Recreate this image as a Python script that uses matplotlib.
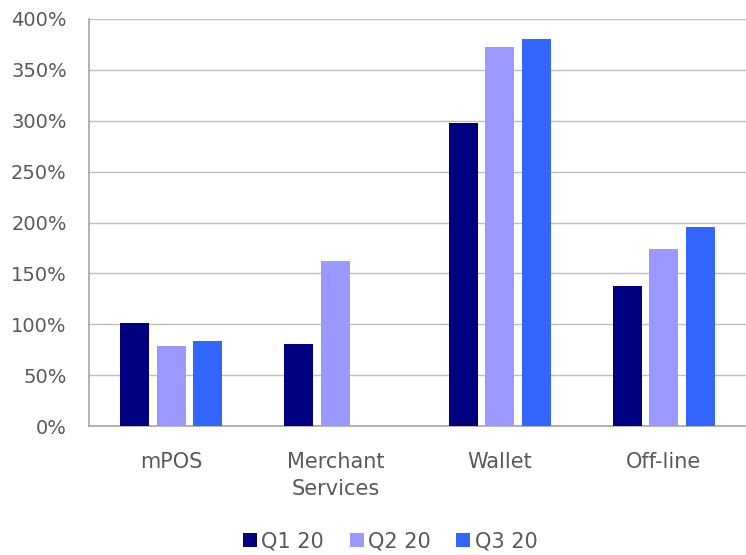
import matplotlib
matplotlib.use("Agg")
import matplotlib.pyplot as plt
import numpy as np
from matplotlib.ticker import FuncFormatter

categories = ["mPOS", "Merchant\nServices", "Wallet", "Off-line"]
series_names = ["Q1 20", "Q2 20", "Q3 20"]
q1_values = [101.5, 80.6, 298.0, 138.0]
q2_values = [79.0, 162.5, 372.8, 173.7]
q3_values = [83.8, np.nan, 380.3, 196.0]

COLORS = ["#000080", "#9999FF", "#3366FF"]
TEXT_GRAY = "#595959"
GRID_GRAY = "#BFBFBF"

fig = plt.figure(figsize=(7.46, 5.55), dpi=100)
ax = fig.add_axes([89 / 746, 1 - 426 / 555, 1 - 89 / 746, (426 - 19) / 555])

x = np.arange(len(categories))
bar_w = 0.176
step = 0.222
for i, (name, vals) in enumerate(zip(series_names, [q1_values, q2_values, q3_values])):
    ax.bar(x + (i - 1) * step, vals, width=bar_w, color=COLORS[i], label=name, zorder=3)

ax.set_xlim(-0.5, len(categories) - 0.5)
ax.set_ylim(0, 400)
ax.set_yticks(np.arange(0, 401, 50))
ax.yaxis.set_major_formatter(FuncFormatter(lambda v, _: f"{v:.0f}%"))
ax.set_xticks(x)
ax.set_xticklabels(categories)

ax.grid(axis="y", color=GRID_GRAY, linewidth=1.0, zorder=0)
ax.tick_params(length=0, colors=TEXT_GRAY)
ax.tick_params(axis="y", labelsize=14, pad=16)
ax.tick_params(axis="x", labelsize=15, pad=19)
for side in ["top", "right"]:
    ax.spines[side].set_visible(False)
for side in ["left", "bottom"]:
    ax.spines[side].set_color("#A6A6A6")
    ax.spines[side].set_linewidth(1.2)

for lbl in ax.get_xticklabels():
    lbl.set_linespacing(1.4)

fig.legend(
    loc="center",
    bbox_to_anchor=(390 / 746, 1 - 541 / 555),
    ncol=3,
    frameon=False,
    fontsize=15,
    handlelength=0.67,
    handleheight=0.67,
    handletextpad=0.2,
    columnspacing=1.25,
    labelcolor=TEXT_GRAY,
)

fig.savefig("out.png", dpi=100)
